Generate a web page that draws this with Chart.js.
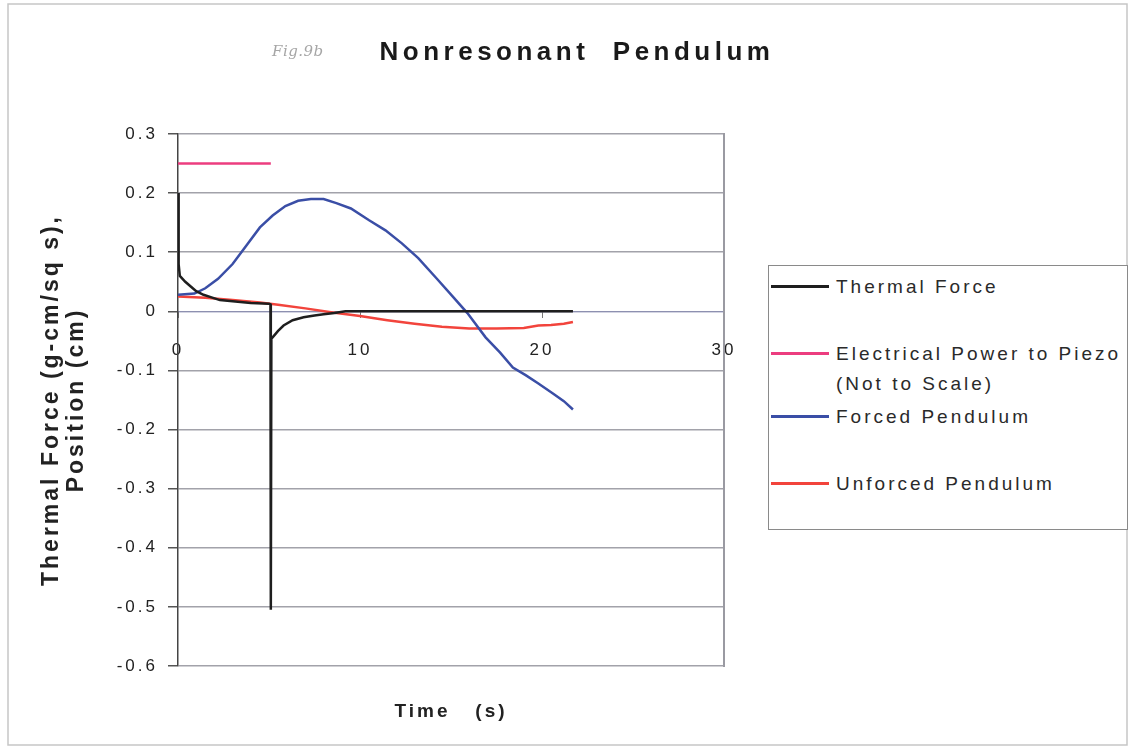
<!DOCTYPE html>
<html>
<head>
<meta charset="utf-8">
<title>Nonresonant Pendulum</title>
<script src="https://cdn.jsdelivr.net/npm/chart.js@4.4.1/dist/chart.umd.min.js"></script>
<style>
  html, body { margin: 0; padding: 0; background: #fff; }
  #wrap { position: relative; width: 1129px; height: 747px; }
  #legend {
    position: absolute; left: 768px; top: 265px; width: 360px; height: 265px;
    border: 1px solid #8a8a8a; box-sizing: border-box; background: #fff;
    font-family: "Liberation Sans", Arial, sans-serif; font-size: 19px;
    color: #2a2a2a; letter-spacing: 3px;
  }
  .swatch { position: absolute; left: 2px; width: 58px; height: 3px; }
  .label { position: absolute; left: 67px; white-space: nowrap; line-height: 30px; }
</style>
</head>
<body>
<div id="wrap">
  <canvas id="chart" width="1129" height="747"></canvas>
  <div id="legend"></div>
</div>
<script>
// Data
const seriesNames = ['Thermal Force', 'Electrical Power to Piezo\n(Not to Scale)', 'Forced Pendulum', 'Unforced Pendulum'];
const seriesColors = ['#1e1e1e', '#ec3d7f', '#3a4ea6', '#f2443c'];

const thermalTime = [0, 0.02, 0.05, 0.1, 0.4, 0.7, 1.0, 1.4, 1.8, 2.3, 3.0, 4.0, 5.0, 5.08, 5.1, 5.13, 5.2, 5.5, 5.8, 6.3, 6.9, 7.5, 8.0, 8.6, 9.2, 12, 15, 18, 21.7];
const thermalForce = [0.2, 0.12, 0.08, 0.06, 0.05, 0.042, 0.034, 0.028, 0.024, 0.019, 0.017, 0.014, 0.013, 0.012, -0.505, -0.046, -0.044, -0.033, -0.024, -0.015, -0.01, -0.007, -0.005, -0.003, 0, 0, 0, 0, 0];

const powerTime = [0, 5.1];
const powerLevel = [0.25, 0.25];

const forcedTime = [0, 0.9, 1.5, 2.2, 3.0, 3.8, 4.5, 5.2, 5.9, 6.6, 7.3, 8.0, 8.7, 9.5, 10.5, 11.4, 12.3, 13.2, 14.2, 15.1, 15.9, 16.9, 17.7, 18.4, 19.1, 19.8, 20.6, 21.2, 21.7];
const forcedPos = [0.028, 0.03, 0.039, 0.055, 0.08, 0.113, 0.142, 0.162, 0.178, 0.187, 0.19, 0.19, 0.183, 0.174, 0.154, 0.137, 0.115, 0.09, 0.056, 0.025, -0.003, -0.044, -0.07, -0.095, -0.108, -0.122, -0.139, -0.152, -0.166];

const unforcedTime = [0, 1.5, 3, 4.5, 5.5, 7, 8.5, 10, 11.5, 13, 14.5, 16, 17.5, 19, 19.8, 20.5, 21.2, 21.7];
const unforcedPos = [0.025, 0.023, 0.019, 0.015, 0.011, 0.005, -0.002, -0.008, -0.015, -0.021, -0.026, -0.029, -0.029, -0.028, -0.024, -0.023, -0.021, -0.018];

const xMin = 0, xMax = 30, xStep = 10;
const yMin = -0.6, yMax = 0.3, yStep = 0.1;

function pairs(xs, ys) {
  return xs.map((x, i) => ({ x: x, y: ys[i] }));
}

const seriesData = [
  pairs(thermalTime, thermalForce),
  pairs(powerTime, powerLevel),
  pairs(forcedTime, forcedPos),
  pairs(unforcedTime, unforcedPos)
];

const FONT = '"Liberation Sans", Arial, sans-serif';

// title, outer frame, right edge of plot
const decorations = {
  id: 'decorations',
  beforeDraw(chart) {
    const ctx = chart.ctx;
    ctx.save();
    ctx.fillStyle = '#fff';
    ctx.fillRect(0, 0, chart.width, chart.height);
    ctx.strokeStyle = '#c6c6c6';
    ctx.lineWidth = 1.5;
    ctx.strokeRect(8, 4, chart.width - 10, chart.height - 6);
    ctx.restore();
    ctx.letterSpacing = '3px';
  },
  beforeDatasetsDraw(chart) {
    const { ctx, chartArea } = chart;
    ctx.save();
    ctx.strokeStyle = '#9a9aa2';
    ctx.lineWidth = 2;
    ctx.beginPath();
    ctx.moveTo(chartArea.right, chartArea.top - 1);
    ctx.lineTo(chartArea.right, chartArea.bottom + 1);
    ctx.stroke();
    ctx.restore();
  },
  afterDraw(chart) {
    const ctx = chart.ctx;
    ctx.save();
    ctx.textBaseline = 'middle';
    ctx.textAlign = 'center';
    ctx.fillStyle = '#1a1a1a';
    ctx.font = 'bold 26px ' + FONT;
    ctx.letterSpacing = '4.5px';
    ctx.fillText('Nonresonant  Pendulum', 577, 53);
    ctx.textAlign = 'left';
    ctx.fillStyle = '#a6a6a6';
    ctx.font = 'italic 15px "DejaVu Serif", serif';
    ctx.letterSpacing = '0.5px';
    ctx.fillText('Fig.9b', 272, 52);
    ctx.restore();
  }
};

const chart = new Chart(document.getElementById('chart'), {
  type: 'line',
  data: {
    datasets: seriesData.map((d, i) => ({
      label: seriesNames[i],
      data: d,
      borderColor: seriesColors[i],
      backgroundColor: seriesColors[i],
      borderWidth: 2.5,
      pointRadius: 0,
      tension: 0,
      fill: false
    }))
  },
  options: {
    responsive: false,
    animation: false,
    events: [],
    layout: { padding: { left: 20, right: 405, top: 134, bottom: 20 } },
    plugins: {
      legend: { display: false },
      title: { display: false },
      tooltip: { enabled: false }
    },
    scales: {
      x: {
        type: 'linear',
        min: xMin,
        max: xMax,
        position: { y: 0 },
        ticks: {
          stepSize: xStep,
          padding: 23,
          color: '#222',
          font: { family: FONT, size: 17 }
        },
        grid: { drawOnChartArea: false, tickLength: 6, color: '#777', lineWidth: 1 },
        border: { color: '#8d90b0', width: 1 },
        afterFit(s) { s.paddingLeft = 0; s.paddingRight = 0; }
      },
      x2: {
        type: 'linear',
        axis: 'x',
        min: xMin,
        max: xMax,
        position: 'bottom',
        ticks: { display: false },
        grid: { display: false },
        border: { display: false },
        title: {
          display: true,
          text: 'Time   (s)',
          color: '#222',
          font: { family: FONT, size: 19, weight: 'bold', lineHeight: 1.2 },
          padding: { top: 0, bottom: 4 }
        },
        afterFit(s) { s.height = 61; s.paddingLeft = 0; s.paddingRight = 0; }
      },
      y: {
        type: 'linear',
        min: yMin,
        max: yMax,
        position: 'left',
        ticks: {
          stepSize: yStep,
          padding: 10,
          color: '#222',
          font: { family: FONT, size: 17 },
          callback: v => String(Number(v.toFixed(1)))
        },
        grid: {
          color: c => (c.tick && Math.abs(c.tick.value) < 1e-9) ? '#a9acc8' : '#a2a2aa',
          lineWidth: 1.5,
          tickLength: 10,
          tickColor: '#555',
          tickWidth: 1.5
        },
        border: { color: '#444', width: 1.5 },
        title: {
          display: true,
          text: ['Thermal Force (g-cm/sq s),', 'Position (cm)'],
          color: '#222',
          font: { family: FONT, size: 23, weight: 'bold', lineHeight: 1.1 },
          padding: { top: 19, bottom: 0 }
        },
        afterFit(s) { s.width = 158; s.paddingTop = 0; s.paddingBottom = 0; }
      }
    }
  },
  plugins: [decorations]
});

// HTML legend, built from the dataset names and colours
const legendRows = [21, 88, 151, 218];
const legend = document.getElementById('legend');
chart.data.datasets.forEach((ds, i) => {
  const sw = document.createElement('div');
  sw.className = 'swatch';
  sw.style.top = (legendRows[i] - 2) + 'px';
  sw.style.background = ds.borderColor;
  legend.appendChild(sw);

  const lb = document.createElement('div');
  lb.className = 'label';
  lb.style.top = (legendRows[i] - 15) + 'px';
  lb.innerHTML = ds.label.split('\n').join('<br>');
  legend.appendChild(lb);
});
</script>
</body>
</html>
